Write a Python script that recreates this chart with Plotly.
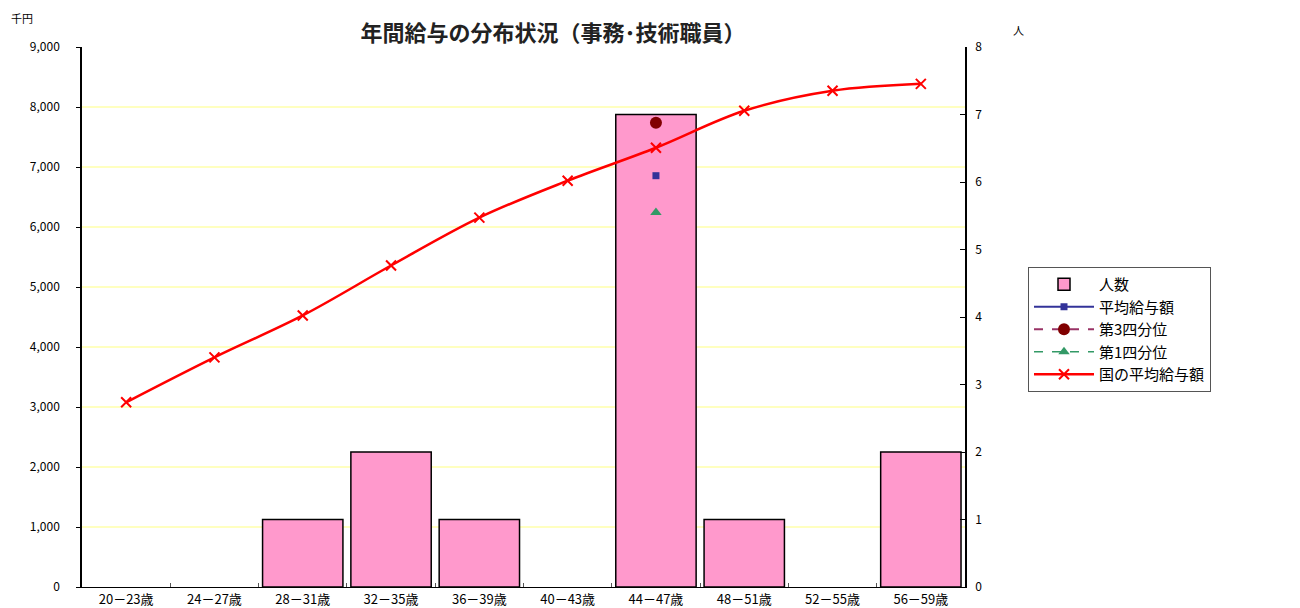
import plotly.graph_objects as go

categories = ["20－23歳", "24－27歳", "28－31歳", "32－35歳", "36－39歳",
              "40－43歳", "44－47歳", "48－51歳", "52－55歳", "56－59歳"]
headcount = [0, 0, 1, 2, 1, 0, 7, 1, 0, 2]
avg_salary = [None, None, None, None, None, None, 6855, None, None, None]
q3_salary = [None, None, None, None, None, None, 7737, None, None, None]
q1_salary = [None, None, None, None, None, None, 6240, None, None, None]
national_avg = [3078, 3827, 4526, 5358, 6156, 6772, 7321, 7937, 8270, 8386]
left_ticks = [0, 1000, 2000, 3000, 4000, 5000, 6000, 7000, 8000, 9000]
left_labels = ["0", "1,000", "2,000", "3,000", "4,000", "5,000", "6,000", "7,000", "8,000", "9,000"]
right_ticks = [0, 1, 2, 3, 4, 5, 6, 7, 8]

FONT = "Noto Sans CJK JP"

# page body has an 8px margin; figure laid out in its own coordinates
W, H = 1292, 600
L, R, T, B = 74, 335, 39, 21
PW, PH = W - L - R, H - T - B


def px(xf):
    return (xf - L) / PW


def py(yf):
    return (H - B - yf) / PH


fig = go.Figure()
fig.add_trace(go.Bar(x=categories, y=[v if v else None for v in headcount], name="人数", yaxis="y",
                     marker=dict(color="#FF99CC", line=dict(color="black", width=1.5))))
fig.add_trace(go.Scatter(x=categories, y=avg_salary, name="平均給与額", mode="lines+markers",
                         yaxis="y2", line=dict(color="#333399", width=2),
                         marker=dict(symbol="square", size=7, color="#333399")))
fig.add_trace(go.Scatter(x=categories, y=q3_salary, name="第3四分位", mode="lines+markers",
                         yaxis="y2", line=dict(color="#993366", width=2, dash="dash"),
                         marker=dict(symbol="circle", size=12, color="#800000")))
fig.add_trace(go.Scatter(x=categories, y=q1_salary, name="第1四分位", mode="lines+markers",
                         yaxis="y2", line=dict(color="#339966", width=1.5, dash="dash"),
                         marker=dict(symbol="triangle-up", size=10, color="#339966")))
fig.add_trace(go.Scatter(x=categories, y=national_avg, name="国の平均給与額", mode="lines+markers",
                         yaxis="y2", line=dict(color="#FF0000", width=2.5, shape="spline"),
                         marker=dict(symbol="x-thin", size=10, color="#FF0000",
                                     line=dict(color="#FF0000", width=2))))

fig.update_layout(
    template="none",
    width=W, height=H,
    margin=dict(l=L, r=R, t=T, b=B, autoexpand=False),
    paper_bgcolor="white", plot_bgcolor="white",
    font=dict(family=FONT, size=12, color="black"),
    title=dict(text="<b>年間給与の分布状況（事務･技術職員）</b>", x=(553 - 8) / W, xanchor="center",
               y=1 - 25 / H, yanchor="middle", font=dict(size=22, family=FONT, color="#222")),
    bargap=0.09,
    showlegend=True,
    legend=dict(x=px(1020), y=py(259), xanchor="left", yanchor="top",
                bordercolor="#555", borderwidth=1, bgcolor="white",
                font=dict(size=15, family=FONT), itemwidth=60, tracegroupgap=0,
                traceorder="normal"),
    xaxis=dict(type="category", range=[-0.5, len(categories) - 0.5],
               showline=True, linecolor="black", linewidth=1,
               ticks="inside", ticklen=4, tickcolor="#555", tickson="boundaries",
               tickfont=dict(size=13, family=FONT), showgrid=False, automargin=False,
               zeroline=False),
    yaxis=dict(range=[0, 8], tickvals=right_ticks, side="right",
               showline=True, linecolor="black", linewidth=1.5,
               ticks="inside", ticklen=5, tickcolor="black",
               showgrid=False, zeroline=False, tickfont=dict(size=12),
               ticklabelstandoff=6, automargin=False),
    yaxis2=dict(range=[0, 9000], tickvals=left_ticks, ticktext=left_labels,
                overlaying="y", side="left",
                showline=True, linecolor="black", linewidth=1.5,
                ticks="outside", ticklen=4, tickcolor="black",
                showgrid=True, gridcolor="#FFFFC0", gridwidth=1.5, zeroline=False,
                tickfont=dict(size=12), ticklabelstandoff=14, automargin=False),
)

fig.add_annotation(text="千円", xref="paper", yref="paper", x=px(14), y=py(10),
                   showarrow=False, xanchor="center", yanchor="middle", font=dict(size=11))
fig.add_annotation(text="人", xref="paper", yref="paper", x=px(1010), y=py(22),
                   showarrow=False, xanchor="center", yanchor="middle", font=dict(size=11))

fig.write_html("out.html")
